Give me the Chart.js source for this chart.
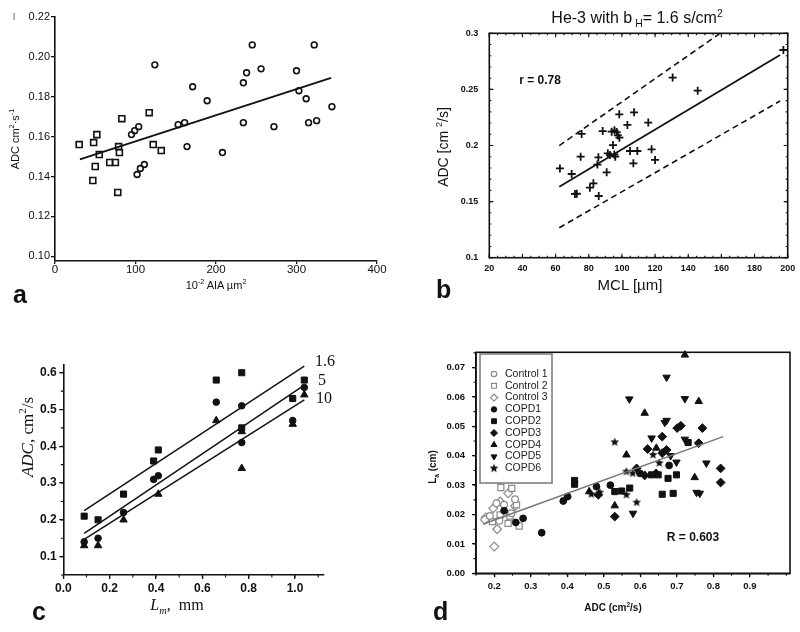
<!DOCTYPE html>
<html>
<head>
<meta charset="utf-8">
<script src="https://cdn.jsdelivr.net/npm/chart.js@4.4.1/dist/chart.umd.min.js"></script>
<style>
  body { margin: 0; background: #fff; }
  #page { position: relative; width: 800px; height: 632px; overflow: hidden; font-family: "Liberation Sans", Arial, sans-serif; color: #111; }
  canvas { position: absolute; }
  .txt { position: absolute; white-space: nowrap; line-height: 1; }
  .ctr { transform: translate(-50%, -50%); }
  .rot { transform: translate(-50%, -50%) rotate(-90deg); }
  .letter { font-size: 25px; font-weight: bold; }
  .serif { font-family: "Liberation Serif", "Times New Roman", serif; }
  sup, sub { font-size: 0.65em; line-height: 0; }
</style>
</head>
<body>
<div id="page">
  <canvas id="chart-a" width="400" height="300" style="left:0;top:0"></canvas>
  <canvas id="chart-b" width="400" height="300" style="left:400px;top:0"></canvas>
  <canvas id="chart-c" width="400" height="332" style="left:0;top:300px"></canvas>
  <canvas id="chart-d" width="400" height="332" style="left:400px;top:300px"></canvas>

  <div class="txt" style="left:13px;top:12px;font-size:8px">|</div>
  <div class="txt rot" style="left:15px;top:139px;font-size:11px">ADC cm<sup>2</sup>·s<sup>-1</sup></div>
  <div class="txt ctr" style="left:216px;top:285px;font-size:11px">10<sup>-2</sup> AIA µm<sup>2</sup></div>
  <div class="txt letter" style="left:13px;top:282px">a</div>

  <div class="txt ctr" style="left:637px;top:18px;font-size:16px">He-3 with b<sub> H</sub>= 1.6 s/cm<sup>2</sup></div>
  <div class="txt ctr" style="left:540px;top:80px;font-size:12px;font-weight:bold">r = 0.78</div>
  <div class="txt rot" style="left:443px;top:147px;font-size:14px">ADC [cm <sup>2</sup>/s]</div>
  <div class="txt ctr" style="left:630px;top:284px;font-size:15px">MCL [µm]</div>
  <div class="txt letter" style="left:436px;top:277px">b</div>

  <div class="txt rot serif" style="left:27px;top:437px;font-size:17px"><i>ADC</i>, cm<sup>2</sup>/s</div>
  <div class="txt ctr serif" style="left:177px;top:605px;font-size:16px"><i>L<sub>m</sub></i>,&nbsp; mm</div>
  <div class="txt serif" style="left:315px;top:353px;font-size:16px">1.6</div>
  <div class="txt serif" style="left:318px;top:372px;font-size:16px">5</div>
  <div class="txt serif" style="left:316px;top:390px;font-size:16px">10</div>
  <div class="txt letter" style="left:32px;top:599px">c</div>

  <div class="txt rot" style="left:433px;top:467px;font-size:10px;font-weight:bold">L<sub>a</sub> (cm)</div>
  <div class="txt ctr" style="left:613px;top:608px;font-size:10px;font-weight:bold">ADC (cm<sup>2</sup>/s)</div>
  <div class="txt ctr" style="left:693px;top:537px;font-size:12px;font-weight:bold">R = 0.603</div>
  <div class="txt letter" style="left:433px;top:599px">d</div>
</div>

<script>
// ---- panel a ----
var aXTicks = [0, 100, 200, 300, 400];
var aXLabels = ['0', '100', '200', '300', '400'];
var aYTicks = [0.10, 0.12, 0.14, 0.16, 0.18, 0.20, 0.22];
var aYLabels = ['0.10', '0.12', '0.14', '0.16', '0.18', '0.20', '0.22'];
var aSquareX = [30, 48, 52, 55, 50, 47, 68, 75, 78, 79, 80, 83, 117, 122, 132];
var aSquareY = [0.156, 0.157, 0.161, 0.151, 0.145, 0.138, 0.147, 0.147, 0.132, 0.155, 0.152, 0.169, 0.172, 0.156, 0.153];
var aCircleX = [95, 99, 104, 102, 106, 111, 124, 153, 161, 164, 171, 189, 208, 234, 234, 238, 245, 256, 272, 300, 303, 312, 315, 322, 325, 344];
var aCircleY = [0.161, 0.163, 0.165, 0.141, 0.144, 0.146, 0.196, 0.166, 0.167, 0.155, 0.185, 0.178, 0.152, 0.167, 0.187, 0.192, 0.206, 0.194, 0.165, 0.193, 0.183, 0.179, 0.167, 0.206, 0.168, 0.175];
var aFitX = [31, 343];
var aFitY = [0.1486, 0.1895];

// ---- panel b ----
var bXTicks = [20, 40, 60, 80, 100, 120, 140, 160, 180, 200];
var bXLabels = ['20', '40', '60', '80', '100', '120', '140', '160', '180', '200'];
var bYTicks = [0.1, 0.15, 0.2, 0.25, 0.3];
var bYLabels = ['0.1', '0.15', '0.2', '0.25', '0.3'];
var bX = [62.6, 69.7, 71.7, 72.8, 75.1, 75.7, 80.7, 82.8, 86.0, 85.2, 85.8, 88.4, 90.8, 91.5, 92.8, 93.8, 95.5, 96.8, 97.5, 98.5, 94.6, 95.4, 96.0, 98.4, 103.3, 107.3, 104.9, 109.3, 106.9, 115.9, 117.9, 120.0, 130.6, 145.7, 197.4];
var bY = [0.1796, 0.1746, 0.1568, 0.1570, 0.1900, 0.2103, 0.1624, 0.1663, 0.1550, 0.1830, 0.1895, 0.2129, 0.1761, 0.1930, 0.1915, 0.2123, 0.2135, 0.2120, 0.2090, 0.2070, 0.2004, 0.1920, 0.1900, 0.2278, 0.2183, 0.2296, 0.1951, 0.1951, 0.1841, 0.2204, 0.1966, 0.1871, 0.2605, 0.2489, 0.2851];
var bFitX = [62.2, 195.4];
var bFitY = [0.1633, 0.2807];
var bUpperX = [62.2, 159.2];
var bUpperY = [0.1999, 0.3];
var bLowerX = [62.2, 195.4];
var bLowerY = [0.1267, 0.2397];

// ---- panel c ----
var cXTicks = [0, 0.2, 0.4, 0.6, 0.8, 1.0];
var cXLabels = ['0.0', '0.2', '0.4', '0.6', '0.8', '1.0'];
var cYTicks = [0.1, 0.2, 0.3, 0.4, 0.5, 0.6];
var cYLabels = ['0.1', '0.2', '0.3', '0.4', '0.5', '0.6'];
var cSquareX = [0.09, 0.15, 0.26, 0.39, 0.41, 0.66, 0.77, 0.77, 0.99, 1.04];
var cSquareY = [0.21, 0.20, 0.27, 0.36, 0.39, 0.58, 0.60, 0.45, 0.53, 0.58];
var cCircleX = [0.09, 0.15, 0.26, 0.39, 0.41, 0.66, 0.77, 0.77, 0.99, 1.04];
var cCircleY = [0.14, 0.15, 0.22, 0.31, 0.32, 0.52, 0.51, 0.41, 0.47, 0.56];
var cTriX = [0.09, 0.15, 0.26, 0.41, 0.66, 0.77, 0.77, 0.99, 1.04];
var cTriY = [0.13, 0.13, 0.20, 0.27, 0.47, 0.44, 0.34, 0.46, 0.54];
var cLineX = [0.09, 1.04];
var cLine16Y = [0.225, 0.618];
var cLine5Y = [0.163, 0.566];
var cLine10Y = [0.147, 0.526];

// ---- panel d ----
var dXTicks = [0.2, 0.3, 0.4, 0.5, 0.6, 0.7, 0.8, 0.9];
var dXLabels = ['0.2', '0.3', '0.4', '0.5', '0.6', '0.7', '0.8', '0.9'];
var dYTicks = [0, 0.01, 0.02, 0.03, 0.04, 0.05, 0.06, 0.07];
var dYLabels = ['0.00', '0.01', '0.02', '0.03', '0.04', '0.05', '0.06', '0.07'];
var dLabels = ['Control 1', 'Control 2', 'Control 3', 'COPD1', 'COPD2', 'COPD3', 'COPD4', 'COPD5', 'COPD6'];
var ctl1X = [0.188, 0.227, 0.257, 0.206, 0.247, 0.214];
var ctl1Y = [0.0195, 0.0233, 0.0252, 0.0238, 0.0204, 0.0179];
var ctl2X = [0.218, 0.248, 0.238, 0.268, 0.195, 0.216, 0.261, 0.243];
var ctl2Y = [0.0292, 0.0289, 0.017, 0.0161, 0.0176, 0.0199, 0.0233, 0.0195];
var ctl3X = [0.177, 0.2, 0.208, 0.197, 0.216, 0.238, 0.257, 0.225, 0.174];
var ctl3Y = [0.019, 0.0091, 0.015, 0.0221, 0.0244, 0.0272, 0.0229, 0.0204, 0.0182];
var copd1X = [0.227, 0.259, 0.279, 0.33, 0.389, 0.401, 0.48, 0.518, 0.599, 0.679];
var copd1Y = [0.0213, 0.0173, 0.0187, 0.0138, 0.0246, 0.0261, 0.0295, 0.030, 0.034, 0.0367];
var copd2X = [0.42, 0.42, 0.53, 0.549, 0.571, 0.631, 0.649, 0.66, 0.69, 0.676, 0.699, 0.731];
var copd2Y = [0.0316, 0.0303, 0.0278, 0.028, 0.029, 0.0335, 0.0335, 0.0269, 0.0272, 0.0323, 0.0335, 0.0445];
var copd3X = [0.53, 0.485, 0.59, 0.612, 0.62, 0.66, 0.66, 0.672, 0.701, 0.711, 0.77, 0.76, 0.82, 0.82, 0.643];
var copd3Y = [0.0193, 0.0267, 0.0357, 0.0333, 0.0423, 0.0465, 0.0409, 0.042, 0.0494, 0.0502, 0.0494, 0.0443, 0.0357, 0.0309, 0.034];
var copd4X = [0.722, 0.76, 0.612, 0.562, 0.53, 0.46, 0.749, 0.644];
var copd4Y = [0.0743, 0.0585, 0.0545, 0.0403, 0.023, 0.0278, 0.0326, 0.0426];
var copd5X = [0.672, 0.57, 0.722, 0.667, 0.672, 0.631, 0.58, 0.781, 0.754, 0.763, 0.699, 0.683, 0.722];
var copd5Y = [0.0667, 0.0593, 0.0594, 0.0513, 0.052, 0.046, 0.0204, 0.0375, 0.0275, 0.0272, 0.0378, 0.04, 0.0456];
var copd6X = [0.53, 0.59, 0.562, 0.635, 0.652, 0.466, 0.489, 0.562, 0.579];
var copd6Y = [0.0446, 0.0241, 0.0346, 0.0403, 0.0375, 0.0269, 0.0275, 0.0267, 0.034];
var dFitX = [0.17, 0.827];
var dFitY = [0.0168, 0.0465];

var INK = '#111';

function zip(xs, ys) {
    return xs.map(function (x, i) { return {x: x, y: ys[i]}; });
}

function makeAxis(o) {
    return {
        type: 'linear', min: o.min, max: o.max, bounds: 'data',
        afterFit: function (s) {
            if (o.width !== undefined) s.width = o.width;
            if (o.height !== undefined) s.height = o.height;
        },
        afterBuildTicks: function (s) {
            s.ticks = o.values.map(function (v) { return {value: v}; });
        },
        ticks: {
            autoSkip: false, maxRotation: 0, minRotation: 0, padding: o.pad, color: INK,
            font: o.font,
            callback: function (v, i) { return o.labels[i]; }
        },
        grid: o.tickLen ? {drawOnChartArea: false, drawTicks: true, tickLength: o.tickLen, color: INK, lineWidth: 1.3}
                        : {display: false},
        border: {display: o.border !== false, color: INK, width: 1.6}
    };
}

function makeStar(r) {
    var c = document.createElement('canvas');
    c.width = c.height = Math.ceil(r * 2 + 2);
    var g = c.getContext('2d');
    var cx = c.width / 2, cy = c.height / 2;
    g.beginPath();
    for (var i = 0; i < 10; i++) {
        var rr = i % 2 ? r * 0.45 : r;
        var ang = -Math.PI / 2 + i * Math.PI / 5;
        g.lineTo(cx + rr * Math.cos(ang), cy + rr * Math.sin(ang));
    }
    g.closePath();
    g.fillStyle = INK;
    g.fill();
    return c;
}

// box, minor ticks and the boxed legend of panel d
var decor = {
    id: 'decor',
    afterDatasetsDraw: function (chart, args, o) {
        var ctx = chart.ctx, a = chart.chartArea;
        ctx.save();
        ctx.strokeStyle = INK;
        function seg(x1, y1, x2, y2) { ctx.moveTo(x1, y1); ctx.lineTo(x2, y2); }
        if (o.box) {
            ctx.lineWidth = o.box;
            ctx.strokeRect(a.left, a.top, a.right - a.left, a.bottom - a.top);
        }
        (o.minor || []).forEach(function (m) {
            var s = chart.scales[m.axis];
            var k0 = Math.ceil(s.min / m.step - 1e-6), k1 = Math.floor(s.max / m.step + 1e-6);
            ctx.lineWidth = 1.1;
            ctx.beginPath();
            for (var k = k0; k <= k1; k++) {
                var p = s.getPixelForValue(k * m.step);
                if (m.axis === 'x') {
                    if (m.inward) { seg(p, a.bottom, p, a.bottom - m.len); seg(p, a.top, p, a.top + m.len); }
                    else seg(p, a.bottom, p, a.bottom + m.len);
                } else {
                    if (m.inward) { seg(a.left, p, a.left + m.len, p); seg(a.right, p, a.right - m.len, p); }
                    else seg(a.left, p, a.left - m.len, p);
                }
            }
            ctx.stroke();
        });
        if (o.legend) {
            var L = o.legend;
            ctx.fillStyle = '#fff';
            ctx.fillRect(L.x, L.y, L.w, L.h);
            ctx.strokeStyle = '#777';
            ctx.lineWidth = 1.5;
            ctx.strokeRect(L.x, L.y, L.w, L.h);
            ctx.font = L.font;
            ctx.textBaseline = 'middle';
            ctx.textAlign = 'left';
            chart.data.datasets.filter(function (d) { return d.label; }).forEach(function (d, i) {
                var y = L.firstY + i * L.rowH;
                ctx.fillStyle = d.backgroundColor;
                ctx.strokeStyle = d.borderColor;
                ctx.lineWidth = d.borderWidth;
                if (Chart.helpers && Chart.helpers.drawPoint) {
                    Chart.helpers.drawPoint(ctx, {
                        pointStyle: d.pointStyle, radius: d.pointRadius * 0.8,
                        rotation: d.pointRotation || 0, borderWidth: d.borderWidth
                    }, L.markerX, y);
                }
                ctx.fillStyle = '#222';
                ctx.fillText(d.label, L.textX, y);
            });
        }
        ctx.restore();
    }
};

function baseOptions(padding, scales, decorOpts) {
    return {
        responsive: false, animation: false, events: [],
        layout: {padding: padding},
        plugins: {legend: {display: false}, tooltip: {enabled: false}, decor: decorOpts || {}},
        scales: scales
    };
}

function fitLine(xs, ys, color, width, dash) {
    return {data: zip(xs, ys), showLine: true, pointRadius: 0, borderColor: color,
            borderWidth: width, borderDash: dash || [], order: 0, clip: false};
}

// panel a
new Chart(document.getElementById('chart-a'), {
    type: 'scatter',
    data: {datasets: [
        {data: zip(aSquareX, aSquareY), pointStyle: 'rect', pointRadius: 4.2, borderColor: INK,
         backgroundColor: 'rgba(255,255,255,0)', borderWidth: 1.6, order: 1},
        {data: zip(aCircleX, aCircleY), pointStyle: 'circle', pointRadius: 2.9, borderColor: INK,
         backgroundColor: 'rgba(255,255,255,0)', borderWidth: 1.6, order: 1},
        fitLine(aFitX, aFitY, INK, 1.8)
    ]},
    options: baseOptions({left: 0, right: 23, top: 17, bottom: 0}, {
        x: makeAxis({min: 0, max: 400, values: aXTicks, labels: aXLabels, height: 39, pad: -1, tickLen: 3,
                     font: {family: 'Liberation Sans', size: 11.5}}),
        y: makeAxis({min: 0.0976, max: 0.22, values: aYTicks, labels: aYLabels, width: 55, pad: 1, tickLen: 4,
                     font: {family: 'Liberation Sans', size: 11}})
    }),
    plugins: [decor]
});

// panel b
new Chart(document.getElementById('chart-b'), {
    type: 'scatter',
    data: {datasets: [
        {data: zip(bX, bY), pointStyle: 'cross', pointRadius: 4, borderColor: INK, borderWidth: 1.8, order: 1},
        fitLine(bFitX, bFitY, INK, 1.8),
        fitLine(bUpperX, bUpperY, INK, 1.6, [6, 4]),
        fitLine(bLowerX, bLowerY, INK, 1.6, [6, 4])
    ]},
    options: baseOptions({left: 0, right: 12.3, top: 33.3, bottom: 0}, {
        x: makeAxis({min: 20, max: 200, values: bXTicks, labels: bXLabels, height: 42.3, pad: -3, border: false,
                     font: {family: 'Liberation Sans', size: 9, weight: 'bold'}}),
        y: makeAxis({min: 0.1, max: 0.3, values: bYTicks, labels: bYLabels, width: 89.3, pad: 3, border: false,
                     font: {family: 'Liberation Sans', size: 9, weight: 'bold'}})
    }, {
        box: 1.6,
        minor: [
            {axis: 'x', step: 20, len: 4, inward: true}, {axis: 'x', step: 5, len: 2, inward: true},
            {axis: 'y', step: 0.05, len: 4, inward: true}, {axis: 'y', step: 0.01, len: 2, inward: true}
        ]
    }),
    plugins: [decor]
});

// panel c
new Chart(document.getElementById('chart-c'), {
    type: 'scatter',
    data: {datasets: [
        {data: zip(cSquareX, cSquareY), pointStyle: 'rect', pointRadius: 4.3, borderColor: INK, backgroundColor: INK, borderWidth: 1, order: 1},
        {data: zip(cCircleX, cCircleY), pointStyle: 'circle', pointRadius: 3.3, borderColor: INK, backgroundColor: INK, borderWidth: 1, order: 1},
        {data: zip(cTriX, cTriY), pointStyle: 'triangle', pointRadius: 4.3, borderColor: INK, backgroundColor: INK, borderWidth: 1, order: 1},
        fitLine(cLineX, cLine16Y, INK, 1.5),
        fitLine(cLineX, cLine5Y, INK, 1.5),
        fitLine(cLineX, cLine10Y, INK, 1.5)
    ]},
    options: baseOptions({left: 0, right: 76.7, top: 65, bottom: 0}, {
        x: makeAxis({min: 0, max: 1.122, values: cXTicks, labels: cXLabels, height: 57, pad: 2, tickLen: 4,
                     font: {family: 'Liberation Sans', size: 12, weight: 'bold'}}),
        y: makeAxis({min: 0.05, max: 0.621, values: cYTicks, labels: cYLabels, width: 63.3, pad: 2.6, tickLen: 4,
                     font: {family: 'Liberation Sans', size: 12, weight: 'bold'}})
    }, {
        minor: [{axis: 'x', step: 0.1, len: 2.5}, {axis: 'y', step: 0.05, len: 2.5}]
    }),
    plugins: [decor]
});

// panel d
var starImg = makeStar(4.6);
var GREY = '#8a8a8a';
function dSet(label, xs, ys, style, r, open, rot) {
    return {label: label, data: zip(xs, ys), pointStyle: style, pointRadius: r, pointRotation: rot || 0,
            borderColor: open ? GREY : INK, backgroundColor: open ? '#fff' : INK,
            borderWidth: open ? 1.2 : 1, order: open ? 2 : 1, clip: false};
}
new Chart(document.getElementById('chart-d'), {
    type: 'scatter',
    data: {datasets: [
        dSet(dLabels[0], ctl1X, ctl1Y, 'circle', 3.4, true),
        dSet(dLabels[1], ctl2X, ctl2Y, 'rect', 4.3, true),
        dSet(dLabels[2], ctl3X, ctl3Y, 'rectRot', 4.4, true),
        dSet(dLabels[3], copd1X, copd1Y, 'circle', 3.4, false),
        dSet(dLabels[4], copd2X, copd2Y, 'rect', 4.3, false),
        dSet(dLabels[5], copd3X, copd3Y, 'rectRot', 4.4, false),
        dSet(dLabels[6], copd4X, copd4Y, 'triangle', 4.3, false),
        dSet(dLabels[7], copd5X, copd5Y, 'triangle', 4.3, false, 180),
        dSet(dLabels[8], copd6X, copd6Y, starImg, 4.4, false),
        fitLine(dFitX, dFitY, '#777', 1.5)
    ]},
    options: baseOptions({left: 0, right: 10, top: 52.3, bottom: 0}, {
        x: makeAxis({min: 0.15, max: 1.01, values: dXTicks, labels: dXLabels, height: 58.7, pad: 3.3, tickLen: 4,
                     font: {family: 'Liberation Sans', size: 9.5, weight: 'bold'}}),
        y: makeAxis({min: 0, max: 0.0752, values: dYTicks, labels: dYLabels, width: 76, pad: 7, tickLen: 4,
                     font: {family: 'Liberation Sans', size: 9.5, weight: 'bold'}})
    }, {
        box: 1.6,
        minor: [{axis: 'x', step: 0.05, len: 2.5}, {axis: 'y', step: 0.005, len: 2.5}],
        legend: {x: 80, y: 54, w: 72, h: 129, firstY: 74, rowH: 11.8, markerX: 94, textX: 105,
                 font: '10.5px "Liberation Sans", Arial, sans-serif'}
    }),
    plugins: [decor]
});
</script>
</body>
</html>
